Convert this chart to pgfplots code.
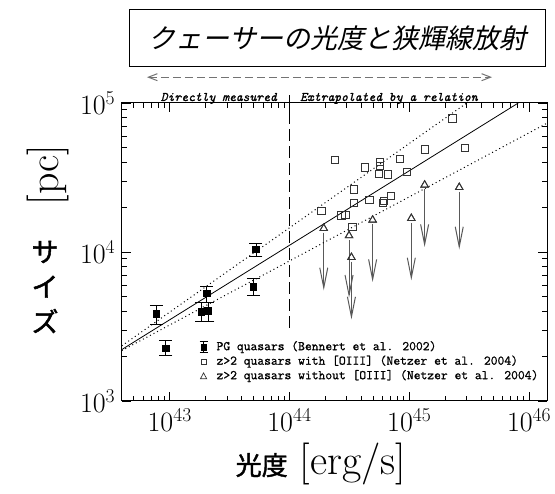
\RequirePackage{fix-cm}
\documentclass[border=0pt]{standalone}
\usepackage{fontspec}
\usepackage{pgfplots}
\usepackage{pgfplotstable}
\pgfplotsset{compat=1.18}
\usetikzlibrary{arrows.meta}
\newfontfamily\cjk{Noto Sans CJK JP}[FakeBold=1.6]
\newfontfamily\cjktitle{Noto Sans CJK JP}[FakeSlant=0.22]
\newfontfamily\ttlab{Latin Modern Mono}[FakeBold=1.2]
\newfontfamily\ttleg{Latin Modern Mono}[FakeBold=1.0]

\pgfplotstableread{
x y ep em
7.74e42 3837 569 548
1.837e43 3972 620 568
2.084e43 4018 606 590
2.032e43 5284 632 713
5.248e43 10471 958 1074
4.989e43 5848 805 755
9.27e42 2259 282 222
}\pg

\pgfplotstableread{
x y
1.849e44 18836
2.388e44 41400
2.710e44 17620
2.931e44 17783
3.436e44 26303
3.436e44 21429
3.350e44 14791
4.246e44 36983
4.645e44 22336
5.728e44 40365
5.728e44 37757
5.546e44 33343
6.592e44 33189
6.026e44 21429
6.166e44 21928
7.031e44 23768
8.414e44 41879
9.550e44 34594
1.358e45 48865
2.291e45 78886
2.931e45 49659
}\sq

\pgfplotstableread{
x y
1.932e44 14420
3.141e44 12882
3.289e44 9204
4.943e44 16406
1.040e45 16827
1.343e45 28184
2.612e45 27164
}\tri

\begin{document}
\begin{tikzpicture}
\useasboundingbox (-121.7pt,-93pt) rectangle (433.3pt,401pt);
\begin{axis}[
  at={(0pt,0pt)}, anchor=south west,
  scale only axis, width=425.3pt, height=298pt,
  xmode=log, ymode=log,
  xmin=3.98e42, xmax=1.413e46, ymin=1e3, ymax=1e5,
  xtick={1e43,1e44,1e45,1e46}, ytick={1e3,1e4,1e5},
  minor xtick={5e42,6e42,7e42,8e42,9e42,2e43,3e43,4e43,5e43,6e43,7e43,8e43,9e43,2e44,3e44,4e44,5e44,6e44,7e44,8e44,9e44,2e45,3e45,4e45,5e45,6e45,7e45,8e45,9e45},
  minor ytick={2e3,3e3,4e3,5e3,6e3,7e3,8e3,9e3,2e4,3e4,4e4,5e4,6e4,7e4,8e4,9e4},
  tick align=inside,
  major tick length=9pt, minor tick length=5pt,
  tick label style={font=\fontsize{28}{30}\selectfont},
  xticklabel style={yshift=-4pt},
  yticklabel style={xshift=-3pt},
  clip=false,
  axis line style={line width=1pt},
  every tick/.append style={line width=0.7pt, black},
  legend style={at={(0.1778,0.2013)}, anchor=north west, draw=none, fill=none,
    font=\ttleg\fontsize{13.2}{14}\selectfont, row sep=2.5pt, inner sep=0pt,
    nodes={inner sep=0pt, text height=9pt, text depth=3pt}},
  legend cell align=left,
]
\addplot[black, only marks, mark=square*, mark size=3.3pt,
  legend image code/.code={\path[draw=none, fill=none] (-6pt,-6pt) rectangle (13pt,6pt);
    \draw[black, line width=0.8pt] (0pt,-5.5pt)--(0pt,5.5pt) (-4pt,5.5pt)--(4pt,5.5pt) (-4pt,-5.5pt)--(4pt,-5.5pt);
    \fill[black] (-2.8pt,-2.8pt) rectangle (2.8pt,2.8pt);},
  error bars/.cd, y dir=both, y explicit,
  error mark options={rotate=90, mark size=6.5pt, line width=0.8pt, black},
  error bar style={line width=0.8pt, black}]
  table[x=x, y=y, y error plus=ep, y error minus=em] {\pg};
\addlegendentry{PG quasars (Bennert et al. 2002)}
\addplot[black!80, only marks, mark=square, mark size=3.6pt, mark options={line width=0.85pt},
  legend image code/.code={\path[draw=none, fill=none] (-6pt,-6pt) rectangle (13pt,6pt);
    \draw[black!80, line width=0.7pt, fill=none] (-2.7pt,-2.7pt) rectangle (2.7pt,2.7pt);}]
  table[x=x, y=y] {\sq};
\addlegendentry{z>2 quasars with [OIII] (Netzer et al. 2004)}
\addplot[black!80, only marks, mark=triangle, mark size=4.3pt, mark options={line width=0.85pt, fill=white},
  legend image code/.code={\path[draw=none, fill=none] (-6pt,-6pt) rectangle (13pt,6pt);
    \draw[black!80, line width=0.7pt, fill=none] (0pt,3.3pt)--(-3.1pt,-2.5pt)--(3.1pt,-2.5pt)--cycle;}]
  table[x=x, y=y] {\tri};
\addlegendentry{z>2 quasars without [OIII] (Netzer et al. 2004)}

% arrows (upper limits)
\pgfplotsset{arr/.style={forget plot, black!65, line width=1pt, -{Straight Barb[length=20pt,width=8pt,line width=1pt]}}}
\addplot[arr] coordinates {(1.932e44,13500) (1.932e44,5534)};
\addplot[arr] coordinates {(3.141e44,12000) (3.141e44,4943)};
\addplot[arr] coordinates {(3.289e44,8600) (3.289e44,3532)};
\addplot[arr] coordinates {(4.943e44,15300) (4.943e44,6295)};
\addplot[arr] coordinates {(1.040e45,15700) (1.040e45,6457)};
\addplot[arr] coordinates {(1.343e45,26300) (1.343e45,10814)};
\addplot[arr] coordinates {(2.612e45,25300) (2.612e45,10423)};
\addplot[forget plot, black!80, only marks, mark=triangle, mark size=4.3pt, mark options={line width=0.85pt, fill=white}]
  table[x=x, y=y] {\tri};

% fit lines
\addplot[forget plot, black, line width=0.8pt] coordinates {(3.98e42,2213) (8.128e45,1e5)};
\addplot[forget plot, black, line width=1pt, dash pattern=on 1pt off 3pt] coordinates {(3.98e42,2344) (3.02e45,1e5)};
\addplot[forget plot, black, line width=1pt, dash pattern=on 1pt off 3pt] coordinates {(3.98e42,2178) (1.413e46,73190)};
% boundary line
\addplot[forget plot, black, line width=0.9pt, dash pattern=on 12pt off 5pt] coordinates {(1e44,3100) (1e44,1.22e5)};
\end{axis}

% title box
\node[draw, line width=1pt, minimum width=415pt, minimum height=57pt, inner sep=0pt]
  at (215.8pt,362.5pt) {\cjktitle\fontsize{27}{30}\selectfont クェーサーの光度と狭輝線放射};
% double arrow
\draw[black!55, line width=1pt, dash pattern=on 8pt off 4pt,
  {Straight Barb[length=9pt,width=7pt]}-{Straight Barb[length=9pt,width=7pt]}]
  (25.3pt,323.8pt) -- (370.3pt,323.8pt);
\node[anchor=base east, inner sep=0pt, font=\ttlab\itshape\fontsize{13}{15}\selectfont] at (155.3pt,300pt) {Directly measured};
\node[anchor=base west, inner sep=0pt, font=\ttlab\itshape\fontsize{13}{15}\selectfont] at (178.3pt,300pt) {Extrapolated by a relation};
% axis labels
\node[anchor=base, inner sep=0pt] at (199.3pt,-74pt)
  {{\cjk\fontsize{26}{30}\selectfont 光度}\hspace{12pt}{\fontsize{42}{44}\selectfont [erg/s]}};
\node[rotate=90, inner sep=0pt, font=\fontsize{42}{44}\selectfont] at (-74pt,226pt) {[pc]};
\node[inner sep=0pt, align=center, font=\cjk\fontsize{27}{35}\selectfont] at (-76.7pt,114pt) {サ\\イ\\ズ};
\end{tikzpicture}
\end{document}
